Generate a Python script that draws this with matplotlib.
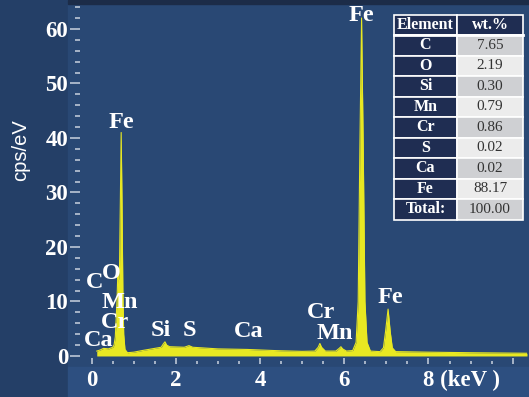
import matplotlib
matplotlib.use("Agg")
import matplotlib.pyplot as plt
from matplotlib.patches import Rectangle
from matplotlib.ticker import MultipleLocator
from matplotlib.transforms import ScaledTranslation

# ---- spectrum (keV, cps/eV) ----
energy = [0.12, 0.20, 0.28, 0.40, 0.50, 0.53, 0.56, 0.60, 0.62, 0.64, 0.66, 0.68,
          0.70, 0.72, 0.74, 0.76, 0.79, 0.85, 1.00, 1.20, 1.50, 1.65, 1.70, 1.74,
          1.78, 1.85, 2.20, 2.31, 2.40, 3.00, 3.69, 4.00, 4.50, 5.00, 5.30, 5.38,
          5.42, 5.46, 5.55, 5.80, 5.88, 5.92, 5.96, 6.05, 6.20, 6.28, 6.33, 6.37,
          6.41, 6.45, 6.49, 6.54, 6.62, 6.85, 6.93, 6.98, 7.04, 7.09, 7.14, 7.22,
          8.00, 9.00, 10.34]
cps = [0.9, 1.1, 1.4, 1.3, 1.6, 2.0, 3.5, 10.0, 15.0, 14.0, 16.0, 28.0,
       41.0, 28.0, 12.0, 4.0, 1.2, 0.6, 0.7, 1.0, 1.4, 1.6, 2.2, 2.6,
       2.0, 1.7, 1.6, 1.9, 1.6, 1.3, 1.2, 1.1, 0.95, 0.85, 0.9, 1.6,
       2.3, 1.6, 0.9, 0.9, 1.4, 1.7, 1.3, 0.9, 1.0, 2.5, 10.0, 38.0,
       62.0, 38.0, 10.0, 2.5, 0.9, 0.8, 1.5, 4.5, 8.6, 4.5, 1.5, 0.8,
       0.7, 0.6, 0.5]

# ---- peak labels ----
peak_names = ["Fe", "C", "O", "Mn", "Cr", "Ca", "Si", "S", "Ca", "Cr", "Mn", "Fe", "Fe"]
peak_x = [0.70, 0.08, 0.47, 0.66, 0.56, 0.17, 1.65, 2.33, 3.74, 5.45, 5.78, 6.41, 7.09]
peak_y = [42.8, 13.4, 15.2, 9.9, 6.2, 2.9, 4.6, 4.6, 4.4, 7.9, 4.2, 62.4, 10.8]

# ---- composition table ----
elements = ["C", "O", "Si", "Mn", "Cr", "S", "Ca", "Fe", "Total:"]
wt_pct = ["7.65", "2.19", "0.30", "0.79", "0.86", "0.02", "0.02", "88.17", "100.00"]

W, H = 529, 397
fig = plt.figure(figsize=(W / 100, H / 100), dpi=100)
fig.patch.set_facecolor("#243f67")

# background panels (pixel coordinates)
bg = fig.add_axes([0, 0, 1, 1])
bg.set_xlim(0, W)
bg.set_ylim(H, 0)
bg.axis("off")
bg.add_patch(Rectangle((68, 0), W - 68, 367, color="#294874", zorder=0))
bg.add_patch(Rectangle((68, 367), W - 68, 30, color="#2d4f80", zorder=0))
bg.add_patch(Rectangle((68, 0), W - 68, 4, color="#1c2c48", zorder=0))

ax = fig.add_axes([80 / W, (H - 364) / H, (527 - 80) / W, (364 - 6) / H])
ax.set_facecolor("none")
ax.fill_between(energy, 0, cps, color="#e8e822", lw=0)
ax.plot(energy, cps, color="#e8e822", lw=0.8)
ax.set_xlim(-0.278, 10.34)
ax.set_ylim(-1.47, 64.2)
for s in ax.spines.values():
    s.set_visible(False)

serif = "Liberation Serif"
ax.yaxis.set_minor_locator(MultipleLocator(2))
ax.set_yticks(range(0, 61, 10))
ax.set_yticklabels([str(v) for v in range(0, 61, 10)], fontfamily=serif,
                   fontweight="bold", fontsize=16.5, color="white")
ax.tick_params(axis="y", which="major", direction="out", length=7.5, width=1.1,
               color="#c9d2de", pad=1)
ax.tick_params(axis="y", which="minor", direction="out", length=3.6, width=1.1,
               color="#c9d2de")

ax.set_xticks([0, 2, 4, 6, 8, 10])
ax.xaxis.set_minor_locator(MultipleLocator(0.5))
ax.set_xticklabels(["0", "2", "4", "6", "8 (keV )", ""], fontfamily=serif,
                   fontweight="bold", fontsize=16.5, color="white")
ax.tick_params(axis="x", which="major", direction="in", length=4.5, width=1.1,
               color="#c9d2de", pad=4)
ax.tick_params(axis="x", which="minor", direction="in", length=2.2, width=1.1,
               color="#c9d2de")
lab8 = ax.get_xticklabels()[4]
lab8.set_ha("left")
lab8.set_transform(lab8.get_transform() + ScaledTranslation(-0.055, 0, fig.dpi_scale_trans))

fig.text(21 / W, 1 - 150 / H, "cps/eV", rotation=90, ha="center", va="center",
         fontfamily="Liberation Sans", fontsize=14.5, color="white")

for name, x, y in zip(peak_names, peak_x, peak_y):
    ax.text(x, y, name, ha="center", va="center", fontfamily=serif,
            fontweight="bold", fontsize=17.5, color="white")

# table drawn in pixel coordinates on the background axes
tx0, tx1, tx2 = 394, 457, 523
ty = 15
head_h, row_h = 20, 20.5
dark = "#1f2d52"
bg.add_patch(Rectangle((tx0, ty), tx1 - tx0, head_h, facecolor=dark, edgecolor="white", lw=1.2, zorder=3))
bg.add_patch(Rectangle((tx1, ty), tx2 - tx1, head_h, facecolor=dark, edgecolor="white", lw=1.2, zorder=3))
bg.text((tx0 + tx1) / 2, ty + head_h / 2, "Element", ha="center", va="center",
        fontfamily=serif, fontweight="bold", fontsize=11.5, color="white", zorder=4)
bg.text((tx1 + tx2) / 2, ty + head_h / 2, "wt.%", ha="center", va="center",
        fontfamily=serif, fontweight="bold", fontsize=11.5, color="white", zorder=4)
for i, (el, val) in enumerate(zip(elements, wt_pct)):
    y0 = ty + head_h + i * row_h
    light = "#cfd0d3" if i % 2 == 0 else "#ececec"
    bg.add_patch(Rectangle((tx0, y0), tx1 - tx0, row_h, facecolor=dark, edgecolor="white", lw=1.2, zorder=3))
    bg.add_patch(Rectangle((tx1, y0), tx2 - tx1, row_h, facecolor=light, edgecolor="white", lw=1.2, zorder=3))
    bg.text((tx0 + tx1) / 2, y0 + row_h / 2, el, ha="center", va="center",
            fontfamily=serif, fontweight="bold", fontsize=11.5, color="white", zorder=4)
    bg.text((tx1 + tx2) / 2, y0 + row_h / 2, val, ha="center", va="center",
            fontfamily=serif, fontsize=11, color="#333333", zorder=4)
bg.plot([tx0, tx2], [ty + head_h, ty + head_h], color="white", lw=2, zorder=5)

fig.savefig("out.png", dpi=100, facecolor=fig.get_facecolor())
